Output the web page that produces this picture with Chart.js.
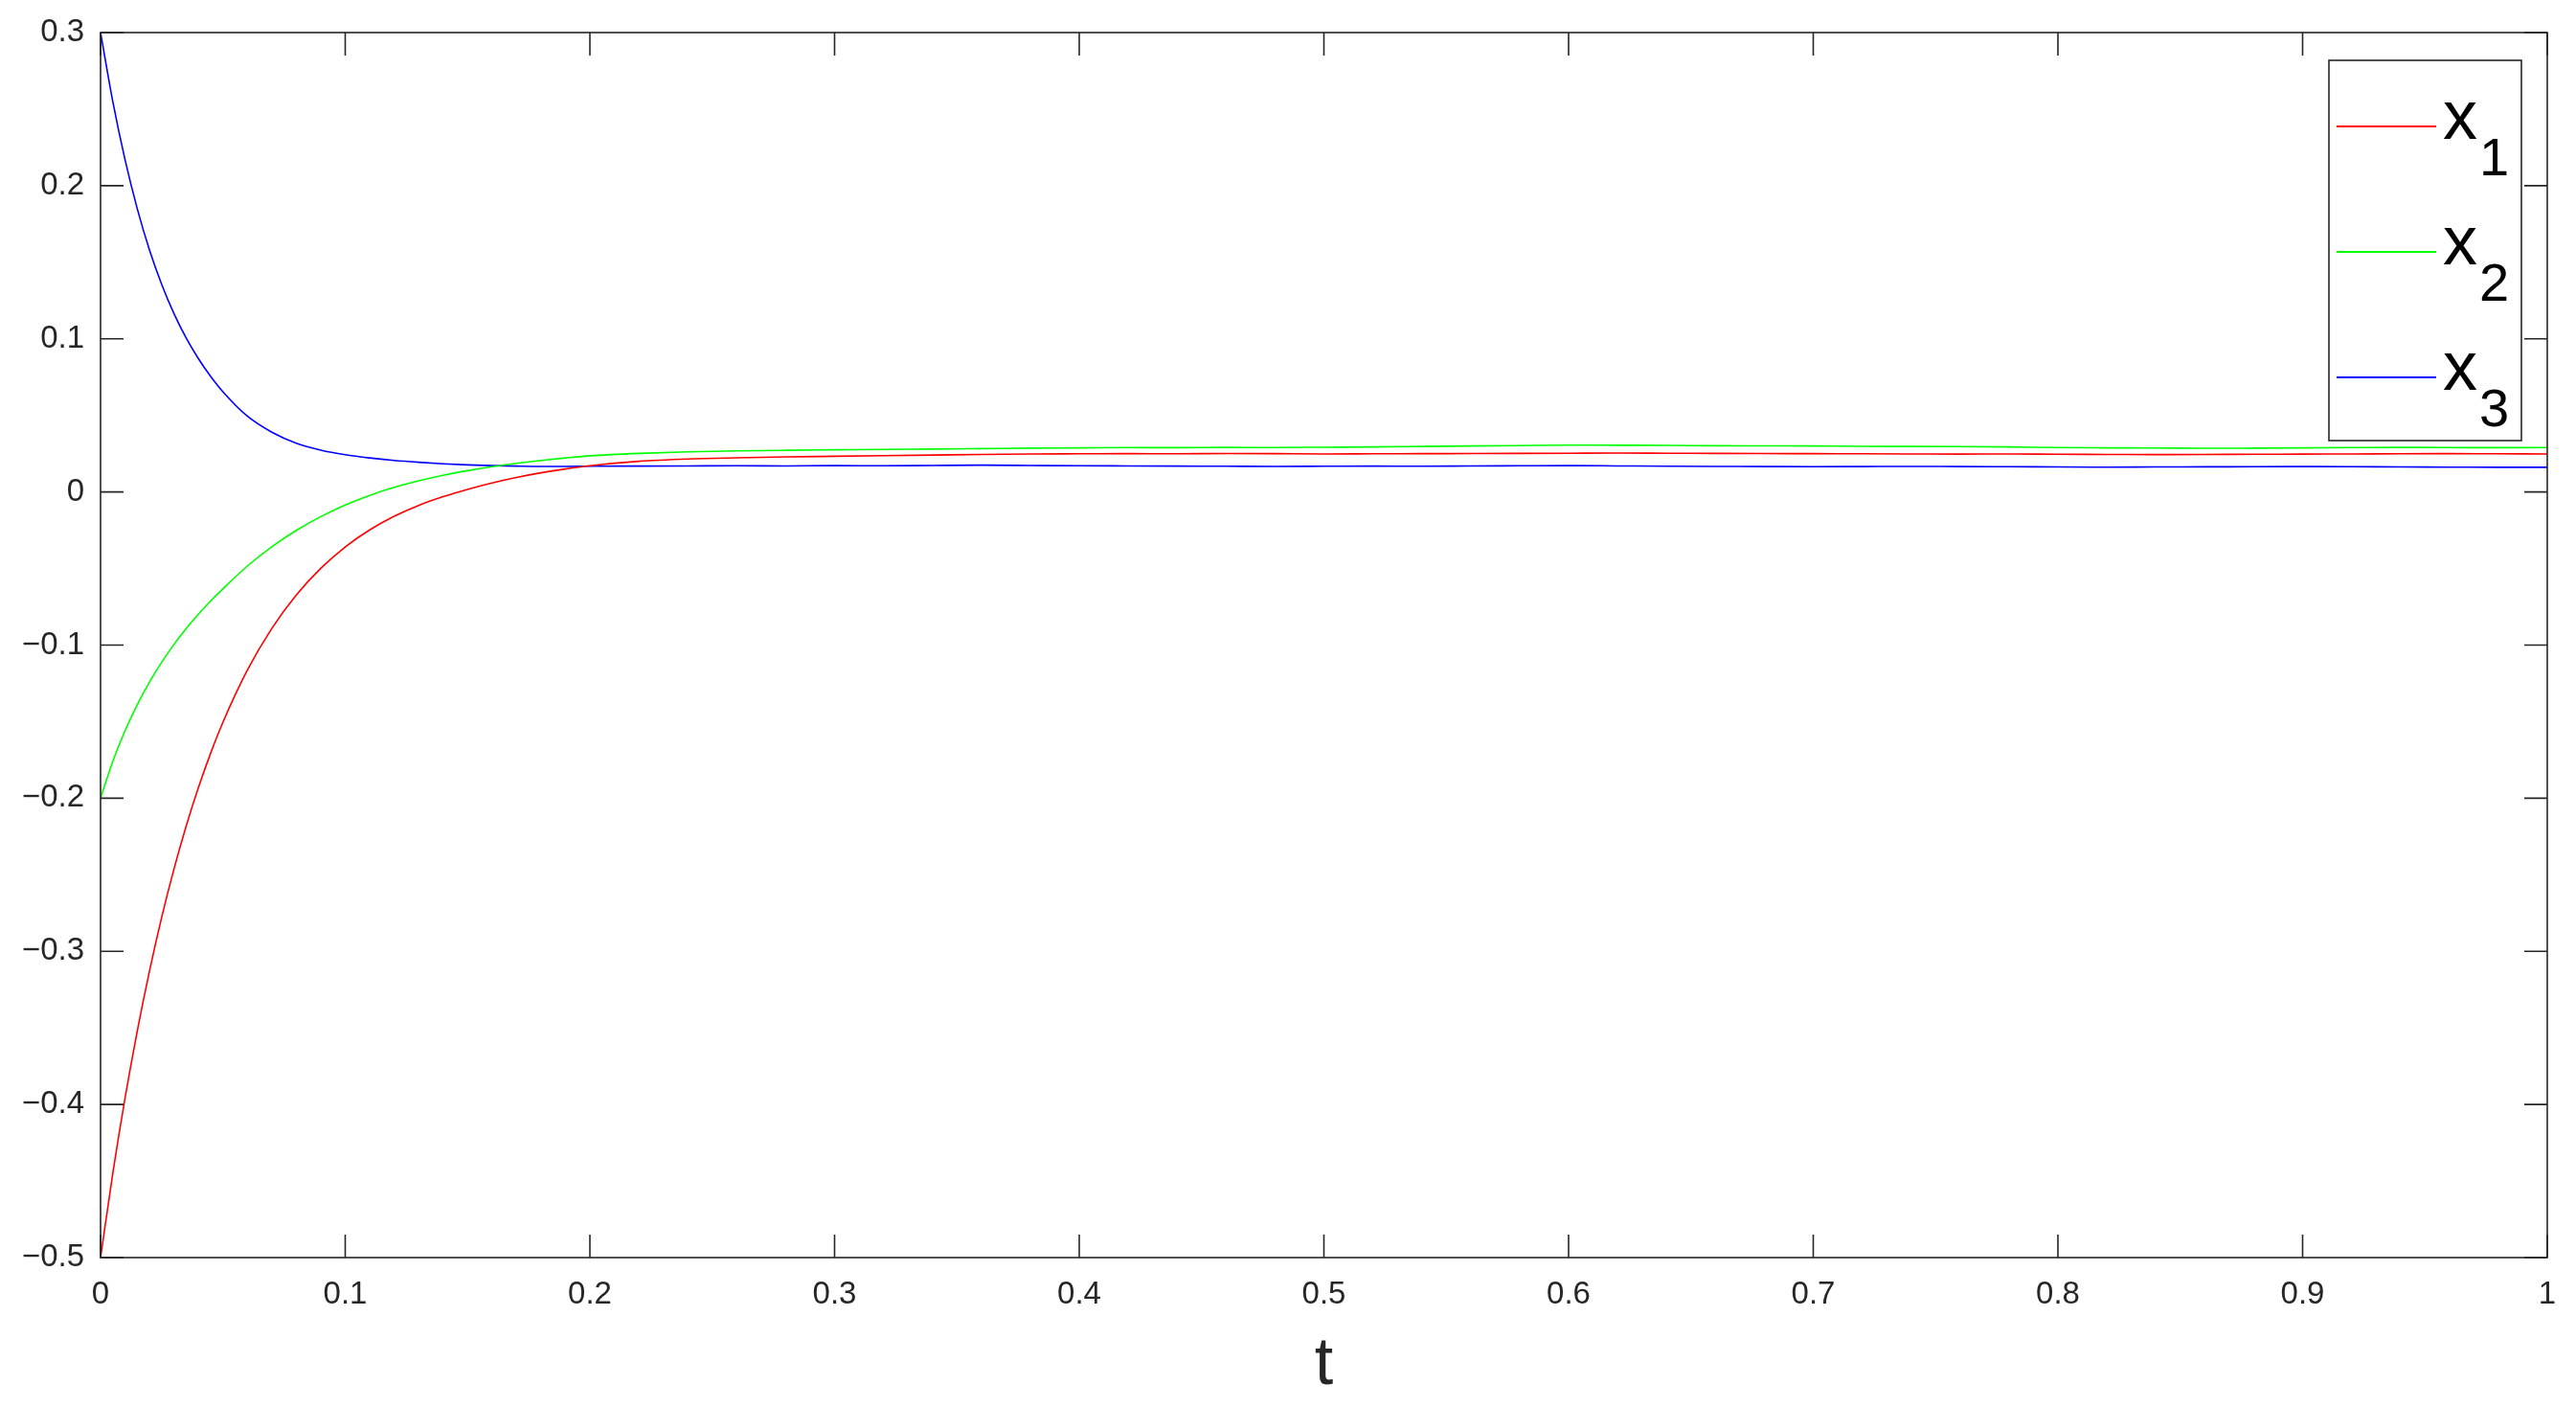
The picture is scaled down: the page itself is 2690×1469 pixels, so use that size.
<!DOCTYPE html>
<html><head><meta charset="utf-8">
<script src="https://cdn.jsdelivr.net/npm/chart.js@4"></script>
<style>html,body{margin:0;padding:0;background:#fff}canvas{display:block}</style>
</head><body>
<canvas id="c" width="2690" height="1469"></canvas>
<script>
// time samples
const tVals = [0,0.005,0.01,0.015,0.02,0.025,0.03,0.035,0.04,0.045,0.05,
  0.06,0.07,0.08,0.09,0.10,0.11,0.12,0.13,0.14,0.15,0.16,0.17,0.18,0.19,0.20,
  0.22,0.24,0.26,0.28,0.30,0.32,0.34,0.36,0.38,0.40,0.42,0.44,0.46,0.48,0.50,
  0.52,0.54,0.56,0.58,0.60,0.62,0.64,0.66,0.68,0.70,0.72,0.74,0.76,0.78,0.80,
  0.82,0.84,0.86,0.88,0.90,0.92,0.94,0.96,0.98,1.00];
const x1Vals = [-0.500,-0.4451,-0.3960,-0.3521,-0.3129,-0.2777,-0.2463,-0.2182,-0.1931,-0.1706,-0.1505,
  -0.1164,-0.0891,-0.0673,-0.0499,-0.0359,-0.0248,-0.0159,-0.0088,-0.0031,0.0017,0.0059,0.0095,0.0125,0.0150,0.0171,
  0.0200,0.0215,0.0223,0.0229,0.0233,0.0237,0.0241,0.0245,0.0248,0.0249,0.025,0.0249,0.0251,0.025,0.0248,
  0.0249,0.025,0.0251,0.0252,0.0253,0.0254,0.0253,0.0252,0.0251,0.025,0.0249,0.0248,0.0247,0.0248,0.0246,
  0.0245,0.0244,0.0245,0.0246,0.0247,0.0248,0.0249,0.025,0.0249,0.0248];
const x2Vals = [-0.200,-0.176,-0.156,-0.139,-0.1242,-0.1112,-0.0996,-0.0892,-0.0798,-0.0712,-0.0633,
  -0.0484,-0.0358,-0.0251,-0.0161,-0.0085,-0.0022,0.0030,0.0073,0.0109,0.0139,0.0165,0.0187,0.0206,0.0222,0.0236,
  0.0252,0.0262,0.0268,0.0272,0.0275,0.0278,0.028,0.0283,0.0286,0.0288,0.029,0.0289,0.0291,0.029,0.0292,
  0.0294,0.0297,0.030,0.0303,0.0306,0.0305,0.0304,0.0302,0.0301,0.030,0.0298,0.0297,0.0296,0.0294,0.029,
  0.0288,0.0287,0.0285,0.0286,0.0288,0.029,0.0291,0.029,0.0289,0.029];
const x3Vals = [0.300,0.255,0.217,0.185,0.158,0.1355,0.1165,0.1005,0.087,0.0755,0.0655,
  0.0495,0.039,0.0318,0.0273,0.0243,0.0222,0.0206,0.0194,0.0184,0.0177,0.0172,0.0169,0.0167,0.0167,0.0168,
  0.0169,0.017,0.0171,0.017,0.0172,0.0171,0.0173,0.0175,0.0173,0.0171,0.017,0.0169,0.0168,0.0167,0.0168,
  0.0169,0.0168,0.017,0.0171,0.0172,0.017,0.0168,0.0167,0.0166,0.0165,0.0166,0.0167,0.0166,0.0165,0.0163,
  0.0162,0.0163,0.0164,0.0165,0.0166,0.0165,0.0163,0.0162,0.0161,0.0161];
const seriesBase = ['x','x','x'];
const seriesSub = ['1','2','3'];
const seriesColors = ['#ff0000','#00ff00','#0000ff'];
const xTicks = [0,0.1,0.2,0.3,0.4,0.5,0.6,0.7,0.8,0.9,1];
const yTicks = [-0.5,-0.4,-0.3,-0.2,-0.1,0,0.1,0.2,0.3];
const xTitle = 't';

const FONT = "'Liberation Sans', Arial, Helvetica, sans-serif";
const AXC = '#262626';

function fmt(v){ const s = String(Number(v.toFixed(1))); return s.replace('-', '\u2212'); }
function toPts(arr){ return tVals.map((t,i)=>({x:t, y:arr[i]})); }

const frame = {
  id:'frame',
  afterDatasetsDraw(chart){
    const {ctx, chartArea:a, scales:{x, y}} = chart;
    ctx.save();
    ctx.strokeStyle = AXC; ctx.lineWidth = 1.6;
    const TL = 24;
    ctx.beginPath();
    xTicks.forEach(v=>{ const px = x.getPixelForValue(v);
      ctx.moveTo(px, a.bottom); ctx.lineTo(px, a.bottom-TL);
      ctx.moveTo(px, a.top); ctx.lineTo(px, a.top+TL); });
    yTicks.forEach(v=>{ const py = y.getPixelForValue(v);
      ctx.moveTo(a.left, py); ctx.lineTo(a.left+TL, py);
      ctx.moveTo(a.right, py); ctx.lineTo(a.right-TL, py); });
    ctx.stroke();
    ctx.strokeRect(a.left, a.top, a.right-a.left, a.bottom-a.top);
    // legend
    const lx = a.right - 228, ly = a.top + 29, lw = 201, lh = 397;
    ctx.fillStyle = '#fff';
    ctx.fillRect(lx, ly, lw, lh);
    ctx.lineWidth = 1.6;
    ctx.strokeRect(lx, ly, lw, lh);
    chart.data.datasets.forEach((ds, i)=>{
      const base = ly + 82 + i*131;
      ctx.strokeStyle = ds.borderColor; ctx.lineWidth = 1.8;
      ctx.beginPath(); ctx.moveTo(lx+8, base-13); ctx.lineTo(lx+112, base-13); ctx.stroke();
      ctx.fillStyle = '#000';
      ctx.textBaseline = 'alphabetic'; ctx.textAlign = 'left';
      ctx.font = '72px ' + FONT;
      ctx.fillText(seriesBase[i], lx+119, base);
      ctx.font = '56px ' + FONT;
      ctx.fillText(seriesSub[i], lx+157, base+38);
    });
    ctx.restore();
  }
};

new Chart(document.getElementById('c'), {
  type:'line',
  data:{ datasets:[
    {label:'x1', data:toPts(x1Vals), borderColor:seriesColors[0]},
    {label:'x2', data:toPts(x2Vals), borderColor:seriesColors[1]},
    {label:'x3', data:toPts(x3Vals), borderColor:seriesColors[2]},
  ].map(d=>Object.assign(d,{borderWidth:1.6, pointRadius:0, fill:false, cubicInterpolationMode:'monotone'}))},
  options:{
    responsive:false, animation:false, devicePixelRatio:1,
    layout:{padding:{left:0, top:34, right:30, bottom:0}},
    plugins:{legend:{display:false}, tooltip:{enabled:false}},
    scales:{
      x:{type:'linear', min:0, max:1,
        afterBuildTicks(s){ s.ticks = xTicks.map(v=>({value:v})); },
        afterFit(s){ s.height = 156; s.paddingLeft=0; s.paddingRight=0; s.paddingTop=0; s.paddingBottom=0; },
        grid:{display:false, drawTicks:false, tickLength:0},
        border:{display:false},
        ticks:{color:AXC, font:{family:FONT, size:33}, padding:19, maxRotation:0, autoSkip:false,
          callback:(v)=>fmt(v)},
        title:{display:true, text:xTitle, color:AXC, font:{family:FONT, size:70}, padding:{top:0,bottom:1}}
      },
      y:{type:'linear', min:-0.5, max:0.3,
        afterBuildTicks(s){ s.ticks = yTicks.map(v=>({value:v})); },
        afterFit(s){ s.width = 105; s.paddingLeft=0; s.paddingRight=0; s.paddingTop=0; s.paddingBottom=0; },
        grid:{display:false, drawTicks:false, tickLength:0},
        border:{display:false},
        ticks:{color:AXC, font:{family:FONT, size:33}, padding:17, autoSkip:false,
          callback:(v)=>fmt(v)}
      }
    }
  },
  plugins:[frame]
});
</script>
</body></html>
